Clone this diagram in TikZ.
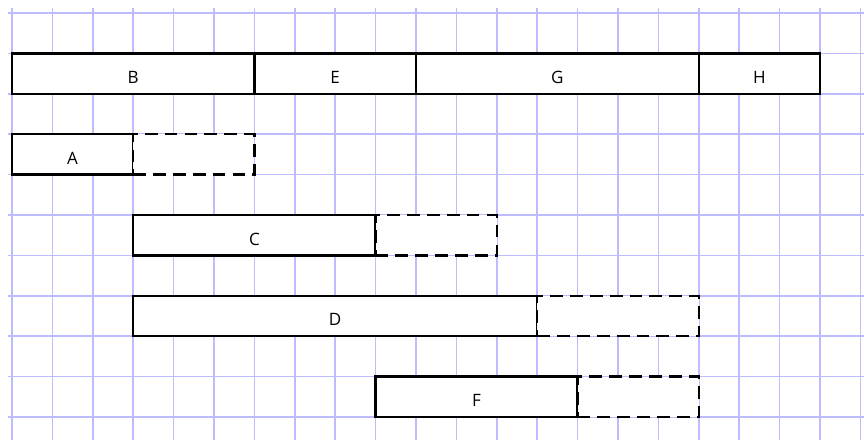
\documentclass[tikz,border=0pt]{standalone}
\usepackage{fontspec}
\setmainfont{Open Sans}
\definecolor{rejilla}{RGB}{188,188,255}
\begin{document}
\begin{tikzpicture}[
				barra/.style={rectangle, draw, fill=white, line width=1.6pt, minimum height=1cm, inner sep=0pt, outer sep=0pt, anchor=north west, text height=14pt, text depth=0pt, font=\fontsize{12}{14}\selectfont},
				holgura/.style={barra, dash pattern=on 9pt off 5pt},
				linea/.style={rejilla, line width=1.2pt}]

			\useasboundingbox (-0.297,0.322) rectangle (21.089,-10.569);
			% Cuadricula
			\foreach \i in {0,...,21} {
					\draw[linea] (\i,0.12) -- (\i,-10.57);
				}
			\foreach \j in {0,...,10} {
					\draw[linea] (-0.1,-\j) -- (21.09,-\j);
				}

			% Barra superior
			\foreach \n/\x/\w in {B/0/6, E/6/4, G/10/7, H/17/3} {
					\node[barra, minimum width=\w cm] (\n) at (\x,-1) {\n};
				}

			% Tareas con holgura
			\node[barra, minimum width=3cm] (A) at (0,-3) {A};
			\node[holgura, minimum width=3cm] (hA) at (3,-3) {};
			\node[barra, minimum width=6cm] (C) at (3,-5) {C};
			\node[holgura, minimum width=3cm] (hC) at (9,-5) {};
			\node[barra, minimum width=10cm] (D) at (3,-7) {D};
			\node[holgura, minimum width=4cm] (hD) at (13,-7) {};
			\node[barra, minimum width=5cm] (F) at (9,-9) {F};
			\node[holgura, minimum width=3cm] (hF) at (14,-9) {};
		\end{tikzpicture}
\end{document}
